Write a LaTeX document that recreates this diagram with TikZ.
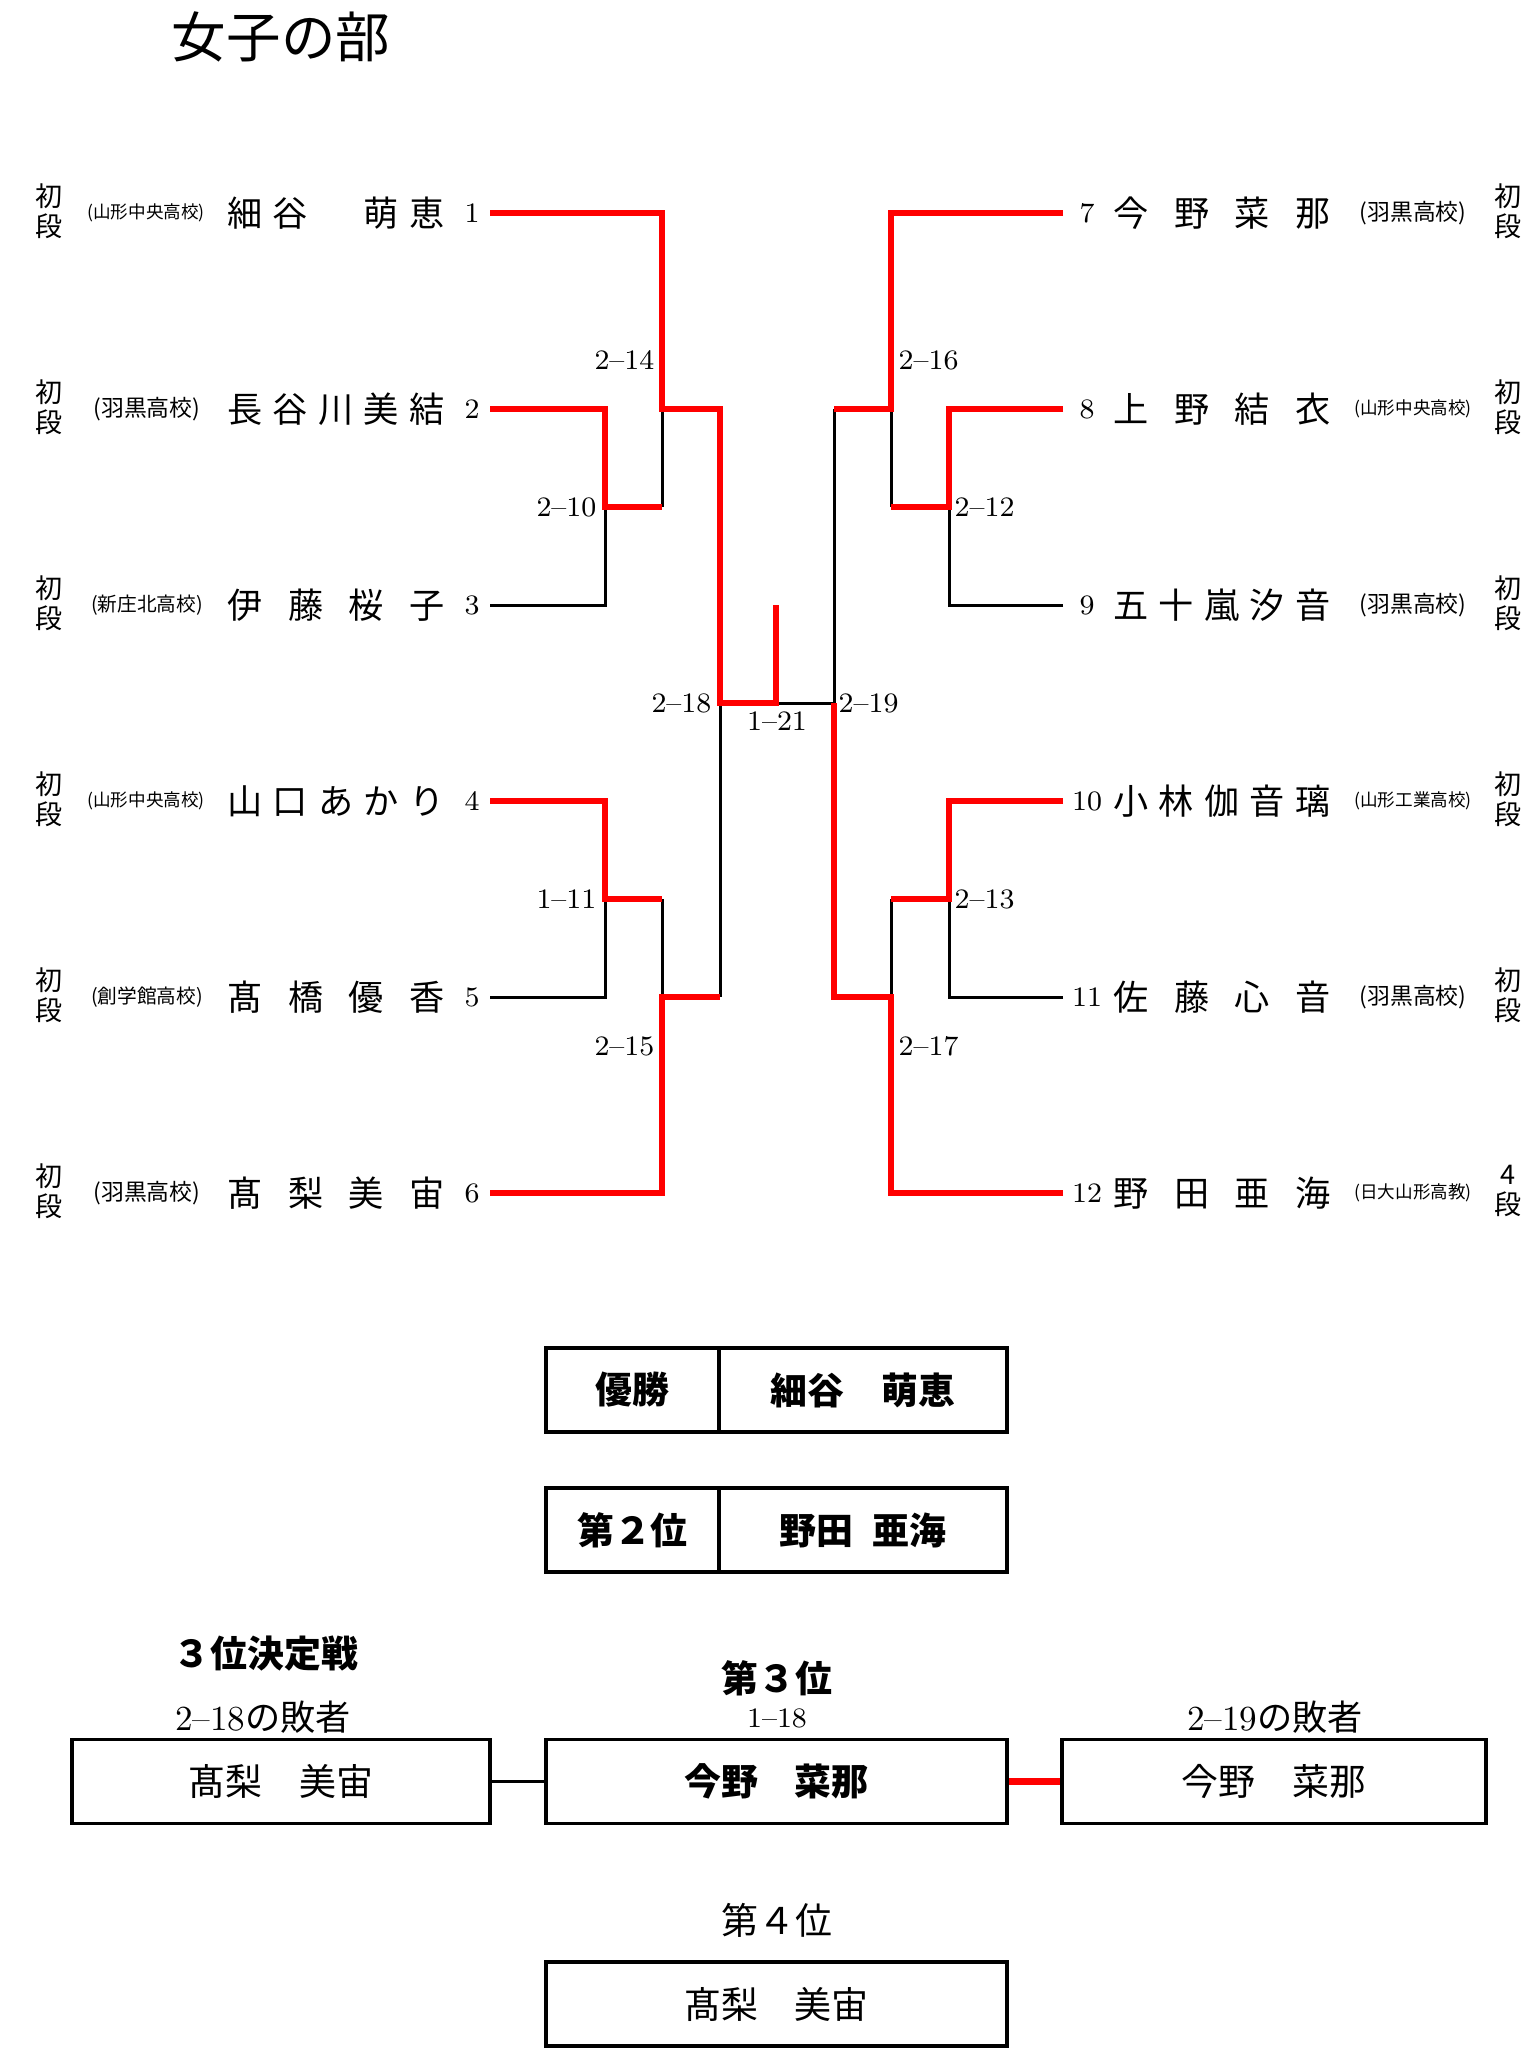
\documentclass[tikz,border=0pt]{standalone}
\usepackage{fontspec}
\usepackage{graphicx}
\newfontfamily\jp{Noto Sans CJK JP}
\newcommand{\spreadname}[1]{\makebox[2.17cm][s]{#1}}

\begin{document}
\begin{tikzpicture}[
  x=0.01cm, y=-0.01cm,
  headline/.style={font=\jp\fontsize{15.5}{18}\selectfont, inner sep=0pt},
  dan/.style={font=\jp\fontsize{7.7}{8.5}\selectfont, align=center, inner sep=0pt},
  school/.style={font=\jp\fontsize{#1}{#1}\selectfont, inner sep=0pt},
  jpname/.style={font=\jp\fontsize{10}{12}\selectfont, inner sep=0pt},
  num/.style={font=\fontsize{8}{9}\selectfont, inner sep=0pt},
  redln/.style={draw=red, line width=1.75pt},
  blkln/.style={draw=black, line width=0.85pt},
  resbox/.style={draw, line width=1.1pt, minimum height=0.84cm, inner sep=0pt,
                 font=\jp\fontsize{10.5}{12}\selectfont},
  bfont/.style={font=\jp\bfseries\fontsize{10.5}{12}\selectfont},
  losecap/.style={font=\fontsize{10}{12}\selectfont, inner sep=0pt},
]
\useasboundingbox (0,0) rectangle (1530,2048);

\node[headline] (title) at (281,37) {女子の部};

% left block
\node[dan] (d1) at (49,211) {初\\段};
\node[dan] (d2) at (49,407) {初\\段};
\node[dan] (d3) at (49,603) {初\\段};
\node[dan] (d4) at (49,799) {初\\段};
\node[dan] (d5) at (49,995) {初\\段};
\node[dan] (d6) at (49,1191) {初\\段};

\node[school=5]   (s1) at (146,213)  {(山形中央高校)};
\node[school=6.5] (s2) at (147,409)  {(羽黒高校)};
\node[school=5.6] (s3) at (147,605)  {(新庄北高校)};
\node[school=5]   (s4) at (146,801)  {(山形中央高校)};
\node[school=5.6] (s5) at (147,997)  {(創学館高校)};
\node[school=6.5] (s6) at (147,1193) {(羽黒高校)};

\node[jpname] (n1) at (336,213)  {\spreadname{細\hfill 谷\hfill \hspace*{1em}\hfill 萌\hfill 恵}};
\node[jpname] (n2) at (336,409)  {\spreadname{長\hfill 谷\hfill 川\hfill 美\hfill 結}};
\node[jpname] (n3) at (336,605)  {\spreadname{伊\hfill 藤\hfill 桜\hfill 子}};
\node[jpname] (n4) at (336,801)  {\spreadname{山\hfill 口\hfill あ\hfill か\hfill り}};
\node[jpname] (n5) at (336,997)  {\spreadname{髙\hfill 橋\hfill 優\hfill 香}};
\node[jpname] (n6) at (336,1193) {\spreadname{髙\hfill 梨\hfill 美\hfill 宙}};

\node[num] (k1) at (472,213)  {1};
\node[num] (k2) at (472,409)  {2};
\node[num] (k3) at (472,605)  {3};
\node[num] (k4) at (472,801)  {4};
\node[num] (k5) at (472,997)  {5};
\node[num] (k6) at (472,1193) {6};

% right block
\node[num] (k7)  at (1087,213)  {7};
\node[num] (k8)  at (1087,409)  {8};
\node[num] (k9)  at (1087,605)  {9};
\node[num] (k10) at (1087,801)  {10};
\node[num] (k11) at (1087,997)  {11};
\node[num] (k12) at (1087,1193) {12};

\node[jpname] (n7)  at (1222,213)  {\spreadname{今\hfill 野\hfill 菜\hfill 那}};
\node[jpname] (n8)  at (1222,409)  {\spreadname{上\hfill 野\hfill 結\hfill 衣}};
\node[jpname] (n9)  at (1222,605)  {\spreadname{五\hfill 十\hfill 嵐\hfill 汐\hfill 音}};
\node[jpname] (n10) at (1222,801)  {\spreadname{小\hfill 林\hfill 伽\hfill 音\hfill 璃}};
\node[jpname] (n11) at (1222,997)  {\spreadname{佐\hfill 藤\hfill 心\hfill 音}};
\node[jpname] (n12) at (1222,1193) {\spreadname{野\hfill 田\hfill 亜\hfill 海}};

\node[school=6.5] (s7)  at (1413,213)  {(羽黒高校)};
\node[school=5]   (s8)  at (1413,409)  {(山形中央高校)};
\node[school=6.5] (s9)  at (1413,605)  {(羽黒高校)};
\node[school=5]   (s10) at (1413,801)  {(山形工業高校)};
\node[school=6.5] (s11) at (1413,997)  {(羽黒高校)};
\node[school=5]   (s12) at (1413,1193) {(日大山形高教)};

\node[dan] (d7)  at (1508,211)  {初\\段};
\node[dan] (d8)  at (1508,407)  {初\\段};
\node[dan] (d9)  at (1508,603)  {初\\段};
\node[dan] (d10) at (1508,799)  {初\\段};
\node[dan] (d11) at (1508,995)  {初\\段};
\node[dan] (d12) at (1508,1191) {4\\段};

% bracket ends and junctions
\coordinate (p1) at (490,213);  \coordinate (p7)  at (1063,213);
\coordinate (p2) at (490,409);  \coordinate (p8)  at (1063,409);
\coordinate (p3) at (490,605);  \coordinate (p9)  at (1063,605);
\coordinate (p4) at (490,801);  \coordinate (p10) at (1063,801);
\coordinate (p5) at (490,997);  \coordinate (p11) at (1063,997);
\coordinate (p6) at (490,1193); \coordinate (p12) at (1063,1193);
\coordinate (j10) at (605,507); \coordinate (j12) at (949,507);
\coordinate (j11) at (605,899); \coordinate (j13) at (949,899);
\coordinate (j14) at (662,409); \coordinate (j16) at (891,409);
\coordinate (j15) at (662,997); \coordinate (j17) at (891,997);
\coordinate (j18) at (720,703); \coordinate (j19) at (834,703);
\coordinate (j21) at (776,703);

% losing lines
\draw[blkln] (p3) -| (j10);
\draw[blkln] (j14) -- (j14 |- j10);
\draw[blkln] (p5) -| (j11);
\draw[blkln] (j15) -- (j15 |- j11);
\draw[blkln] (j18) -- (j18 |- p5);
\draw[blkln] (j21) -- (j19) -- (j19 |- p2);
\draw[blkln] (j16) -- (j16 |- j12);
\draw[blkln] (p9) -| (j12);
\draw[blkln] (j17) -- (j17 |- j13);
\draw[blkln] (p11) -| (j13);

% winning lines
\draw[redln] (p1) -| (j14) -| (j18) -- (j21) -- (j21 |- p3);
\draw[redln] (p2) -| (j10) -- (j10 -| j14);
\draw[redln] (p4) -| (j11) -- (j11 -| j15);
\draw[redln] (p6) -| (j15) -- (j15 -| j18);
\draw[redln] (p7) -| (j16) -- (j16 -| j19);
\draw[redln] (p8) -| (j12) -- (j12 -| j16);
\draw[redln] (p10) -| (j13) -- (j13 -| j17);
\draw[redln] (p12) -| (j17) -| (j19);

% match numbers
\node[num, anchor=east] (m14) at (655,360)  {2–14};
\node[num, anchor=east] (m10) at (597,507)  {2–10};
\node[num, anchor=east] (m18) at (712,703)  {2–18};
\node[num]              (m21) at (777,721)  {1–21};
\node[num, anchor=west] (m19) at (838,703)  {2–19};
\node[num, anchor=west] (m16) at (898,360)  {2–16};
\node[num, anchor=west] (m12) at (954,507)  {2–12};
\node[num, anchor=east] (m11) at (597,899)  {1–11};
\node[num, anchor=east] (m15) at (655,1046) {2–15};
\node[num, anchor=west] (m17) at (898,1046) {2–17};
\node[num, anchor=west] (m13) at (954,899)  {2–13};

% results
\node[resbox, bfont, minimum width=1.73cm] (t1) at (632.5,1390) {優勝};
\node[resbox, bfont, minimum width=2.88cm] (w1) at (863,1390)   {細谷　萌恵};
\node[resbox, bfont, minimum width=1.73cm] (t2) at (632.5,1530) {第２位};
\node[resbox, bfont, minimum width=2.88cm] (w2) at (863,1530)   {野田\enspace 亜海};

% third place bout
\node[bfont, inner sep=0pt] (h3)   at (266,1654) {３位決定戦};
\node[bfont, inner sep=0pt] (h3rd) at (777,1678) {第３位};
\node[num] (m118) at (777,1718) {1–18};
\node[losecap] (c18) at (263,1717)  {2–18{\jp の敗者}};
\node[losecap] (c19) at (1275,1717) {2–19{\jp の敗者}};

\node[resbox, minimum width=4.18cm]        (lose18) at (281,1781.5)   {髙梨　美宙};
\node[resbox, bfont, minimum width=4.61cm] (third)  at (776.5,1781.5) {今野　菜那};
\node[resbox, minimum width=4.24cm]        (lose19) at (1274,1781.5)  {今野　菜那};
\draw[blkln] (lose18) -- (third);
\draw[redln] (third) -- (lose19);

\node[font=\jp\fontsize{10.5}{12}\selectfont, inner sep=0pt] (h4) at (777,1920) {第４位};
\node[resbox, minimum width=4.61cm] (fourth) at (776.5,2004) {髙梨　美宙};

\end{tikzpicture}
\end{document}
